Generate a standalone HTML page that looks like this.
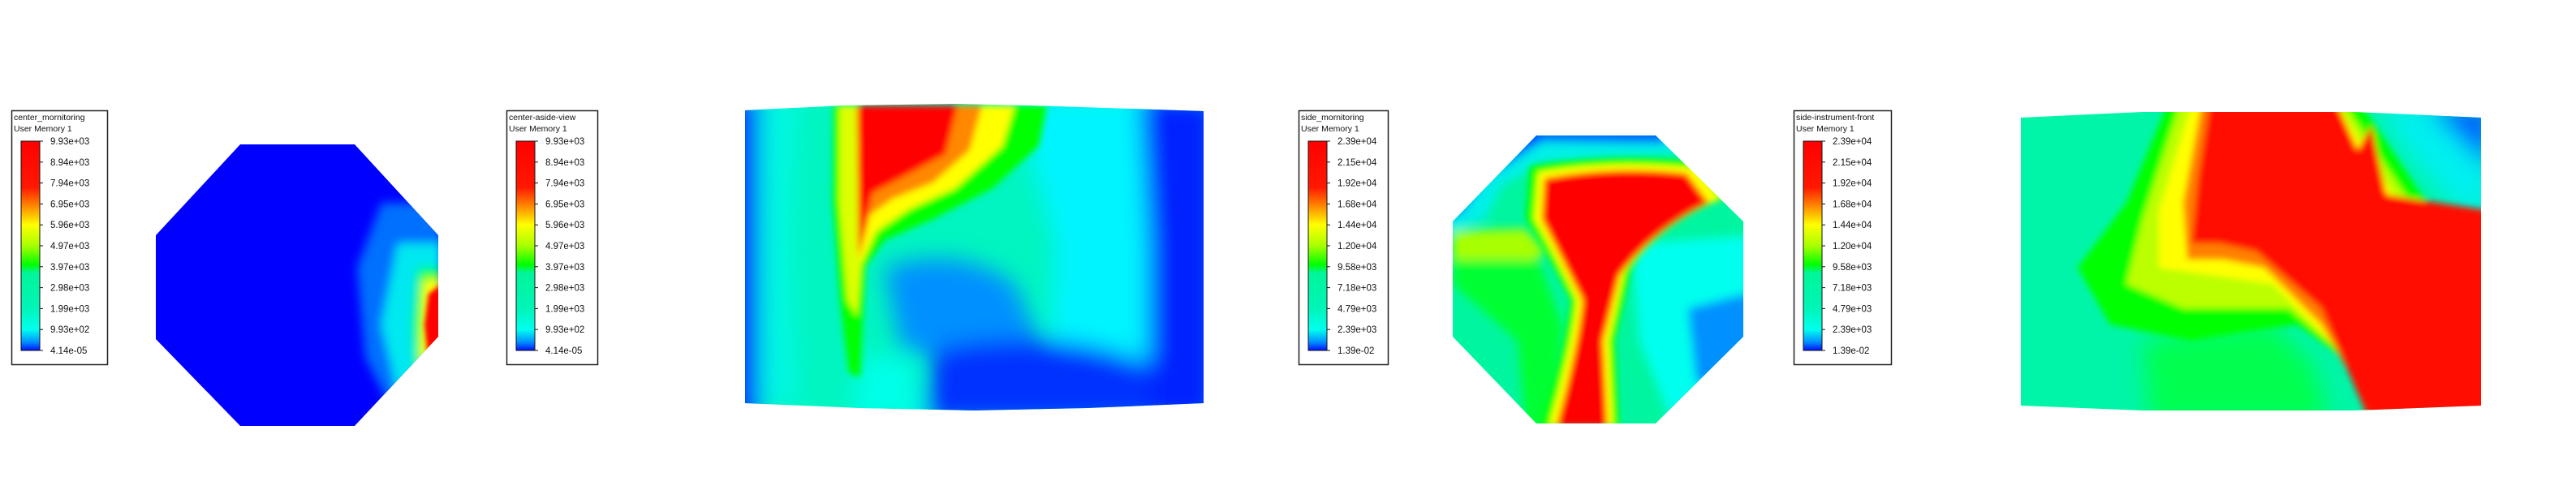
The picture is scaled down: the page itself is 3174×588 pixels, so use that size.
<!DOCTYPE html>
<html><head><meta charset="utf-8"><style>
html,body{margin:0;padding:0;background:#fff;}
body{width:3174px;height:588px;overflow:hidden;position:relative;font-family:"Liberation Sans",sans-serif;}
svg{position:absolute;left:0;top:0;}
</style></head><body>
<svg id="s" width="3174" height="588" viewBox="0 0 3174 588">
<defs>
<linearGradient id="cbar" x1="0" y1="0" x2="0" y2="1">
<stop offset="0" stop-color="#ff0000"/><stop offset="0.22" stop-color="#ff1800"/><stop offset="0.3" stop-color="#ff7a00"/>
<stop offset="0.4" stop-color="#ffff00"/><stop offset="0.5" stop-color="#a8ff00"/><stop offset="0.59" stop-color="#00ff00"/>
<stop offset="0.63" stop-color="#00f59a"/><stop offset="0.8" stop-color="#00f5b8"/><stop offset="0.9" stop-color="#00ffee"/>
<stop offset="0.96" stop-color="#0090ff"/><stop offset="1" stop-color="#0010ff"/>
</linearGradient>
<filter id="b6" x="-20%" y="-20%" width="140%" height="140%"><feGaussianBlur stdDeviation="6"/></filter>
<filter id="b4" x="-20%" y="-20%" width="140%" height="140%"><feGaussianBlur stdDeviation="4"/></filter>
<filter id="b3" x="-20%" y="-20%" width="140%" height="140%"><feGaussianBlur stdDeviation="3"/></filter>
<filter id="b12" x="-30%" y="-30%" width="160%" height="160%"><feGaussianBlur stdDeviation="14"/></filter>
<clipPath id="c1"><polygon points="296,178 437,178 540,290 540,415 437,525 296,525 192,418 192,290"/></clipPath>
<clipPath id="c2"><path d="M918,136 L1040,130 L1180,128 L1300,131 L1483,137 L1483,497 L1340,503 L1200,506 L1060,503 L918,497 Z"/></clipPath>
<clipPath id="c3"><polygon points="1893,167 2040,167 2148,273 2148,415 2040,522 1893,522 1790,415 1790,273"/></clipPath>
<clipPath id="c4"><path d="M2490,145 L2640,138 L2900,138 L3057,145 L3057,500 L2900,506 L2640,506 L2490,500 Z"/></clipPath>
</defs>

<!-- Plot 1 -->
<g clip-path="url(#c1)">
<rect x="190" y="170" width="360" height="360" fill="#0000ff"/>
<g filter="url(#b6)">
<path d="M470,250 L545,250 L545,500 L480,500 L450,440 L440,330 Z" fill="#0070ff"/>
<path d="M490,300 L545,300 L545,485 L490,485 L470,400 Z" fill="#00e8f0"/>
<path d="M515,330 L545,330 L545,450 L512,460 L508,400 Z" fill="#00ff40"/>
<path d="M522,345 L545,345 L545,445 L518,445 Z" fill="#ffff00"/>
</g>
<path d="M528,362 L545,350 L545,435 L527,440 L523,400 Z" fill="#ff0000" filter="url(#b3)"/>
</g>

<!-- Plot 2 -->
<g clip-path="url(#c2)">
<rect x="910" y="120" width="580" height="400" fill="#00f5c0"/>
<g filter="url(#b12)">
<rect x="890" y="120" width="45" height="400" fill="#0000ff"/>
<path d="M935,120 L985,120 L975,300 L985,500 L935,500 Z" fill="#00f8e0"/>
<path d="M1250,120 L1500,120 L1500,520 L1290,520 L1300,300 Z" fill="#00f4ff"/>
<path d="M1405,120 L1500,120 L1500,520 L1415,520 L1415,300 Z" fill="#0020ff"/>
<path d="M1090,330 Q1180,300 1250,350 L1290,440 L1230,450 L1110,430 Z" fill="#0090ff"/>
<path d="M1150,430 Q1300,400 1420,450 L1420,520 L1140,520 Z" fill="#0030ff"/>
<path d="M1060,440 L1120,440 L1140,520 L1050,520 Z" fill="#00ffe8"/>
</g>
<g filter="url(#b4)">
<path d="M1027,130 L1062,130 L1068,300 L1062,420 L1060,465 L1046,460 L1036,380 L1026,250 Z" fill="#00ff00"/>
<path d="M1034,130 L1060,130 L1064,300 L1056,390 L1044,370 L1034,250 Z" fill="#ddff00"/>
<path d="M1056,130 L1290,130 L1280,180 L1223,232 L1150,270 L1090,296 L1062,335 Z" fill="#00ff00"/>
<path d="M1056,130 L1250,130 L1235,180 L1177,232 L1120,258 L1080,285 L1060,328 Z" fill="#ffff00"/>
<path d="M1056,130 L1210,130 L1195,185 L1150,225 L1100,245 L1072,265 L1058,320 Z" fill="#ff8800"/>
<path d="M1056,130 L1180,130 L1165,190 L1119,215 L1075,238 L1058,312 Z" fill="#ff0000"/>
</g>
</g>

<!-- Plot 3 -->
<g clip-path="url(#c3)">
<rect x="1780" y="160" width="380" height="370" fill="#00f5a0"/>
<g filter="url(#b6)">
<path d="M1780,160 L2160,160 L2160,200 L2060,190 L1900,200 L1850,230 L1830,270 L1780,290 Z" fill="#00f0e8"/>
<path d="M1780,160 L2060,160 L2050,176 L1900,174 L1830,220 L1800,262 L1780,270 Z" fill="#0040ff"/>
<path d="M2010,300 L2160,290 L2160,520 L2060,520 L2020,420 Z" fill="#00ffee"/>
<path d="M2080,380 L2160,360 L2160,500 L2090,470 Z" fill="#0090ff"/>
<path d="M1790,285 L1880,282 L1905,310 L1880,330 L1790,335 Z" fill="#a8ff00"/>
<path d="M1790,320 L1895,320 L1925,400 L1915,530 L1880,530 L1870,420 L1790,350 Z" fill="#00ff30"/>
</g>
<g filter="url(#b4)">
<path d="M1885,205 Q1990,188 2100,200 L2135,240 Q2050,270 2010,330 L1990,420 L1995,525 L1900,525 Q1930,420 1935,370 Q1900,300 1880,270 Z" fill="#00ff00"/>
<path d="M1895,212 Q1990,196 2090,207 L2120,245 Q2045,275 2002,335 L1983,420 L1988,525 L1908,525 Q1938,420 1942,370 Q1908,300 1890,270 Z" fill="#ffff00"/>
<path d="M1903,220 Q1990,204 2078,214 L2105,250 Q2038,282 1995,340 L1975,420 L1980,525 L1918,525 Q1946,420 1950,370 Q1915,300 1900,270 Z" fill="#ff0000"/>
</g>
</g>

<!-- Plot 4 -->
<g clip-path="url(#c4)">
<rect x="2480" y="125" width="590" height="400" fill="#00f5a8"/>
<g filter="url(#b12)">
<path d="M2930,130 L3070,130 L3070,270 L3020,250 L2960,180 Z" fill="#00f0f0"/>
<path d="M2990,130 L3070,130 L3070,210 L3030,170 Z" fill="#0060ff"/>
<path d="M2640,420 L2800,400 L2850,450 L2870,520 L2650,520 Z" fill="#00ff50"/>
</g>
<g filter="url(#b4)">
<path d="M2670,130 L2910,130 L2990,250 L3070,300 L3070,520 L2970,520 L2900,450 L2830,400 L2760,410 L2700,420 L2600,400 L2560,330 L2620,250 Z" fill="#00ff00"/>
<path d="M2685,130 L2890,130 L2970,250 L3070,290 L3070,520 L2960,520 L2890,440 L2820,380 L2750,380 L2690,380 L2620,350 L2640,270 Z" fill="#bbff00"/>
<path d="M2700,130 L2880,130 L2955,250 L3070,280 L3070,520 L2950,520 L2880,430 L2800,350 L2730,340 L2660,330 L2660,260 Z" fill="#ffff00"/>
<path d="M2712,130 L2870,130 L2945,245 L3070,270 L3070,520 L2930,520 L2860,400 L2790,330 L2740,320 L2695,320 L2690,250 Z" fill="#ff8000"/>
<path d="M2722,130 L2880,130 L2905,185 L2922,155 L2940,240 L3070,260 L3070,520 L2920,520 L2860,380 L2780,310 L2735,300 L2700,300 L2708,220 Z" fill="#ff1000"/>
</g>
</g>

<g id="legends"></g>
</svg>
<script>
const legendTitles = ["center_mornitoring","center-aside-view","side_mornitoring","side-instrument-front"];
const legendSubtitle = "User Memory 1";
const ticksA = ["9.93e+03","8.94e+03","7.94e+03","6.95e+03","5.96e+03","4.97e+03","3.97e+03","2.98e+03","1.99e+03","9.93e+02","4.14e-05"];
const ticksB = ["2.39e+04","2.15e+04","1.92e+04","1.68e+04","1.44e+04","1.20e+04","9.58e+03","7.18e+03","4.79e+03","2.39e+03","1.39e-02"];
const legendTicks = [ticksA, ticksA, ticksB, ticksB];
const legendX = [14, 624, 1600, 2210];
const legendW = [118, 112, 110, 120];
const NS = "http://www.w3.org/2000/svg";
const host = document.getElementById('legends');
function mk(tag, attrs){const e=document.createElementNS(NS,tag);for(const k in attrs)e.setAttribute(k,attrs[k]);return e;}
legendTitles.forEach((t,i)=>{
  const x0=legendX[i], w=legendW[i];
  const g=mk('g',{});
  
  
  const box=mk('rect',{x:x0+0.5,y:136.5,width:w,height:313,fill:'#fff',stroke:'#222','stroke-width':1.5});
  
  
  g.appendChild(box);
  const t1=mk('text',{x:x0+3,y:148,'font-size':10.5,fill:'#111'});t1.textContent=t;
  
  
  g.appendChild(t1);
  const t2=mk('text',{x:x0+3,y:162,'font-size':10.5,fill:'#111'});t2.textContent=legendSubtitle;
  
  
  g.appendChild(t2);
  const top=174, bot=432;
  const bar=mk('rect',{x:x0+12,y:top,width:23,height:bot-top,fill:'url(#cbar)',stroke:'#111','stroke-width':1});
  
  
  g.appendChild(bar);
  const ticks=legendTicks[i], n=ticks.length-1;
  ticks.forEach((lab,j)=>{
    const y=top+(bot-top)*j/n;
    g.appendChild(mk('line',{x1:x0+35,x2:x0+39,y1:y,y2:y,stroke:'#111','stroke-width':1}));
    const tx=mk('text',{x:x0+48,y:y+4,'font-size':11.5,fill:'#111'});tx.textContent=lab;
    
    
    g.appendChild(tx);
  });
  host.appendChild(g);
});
</script>
</body></html>
